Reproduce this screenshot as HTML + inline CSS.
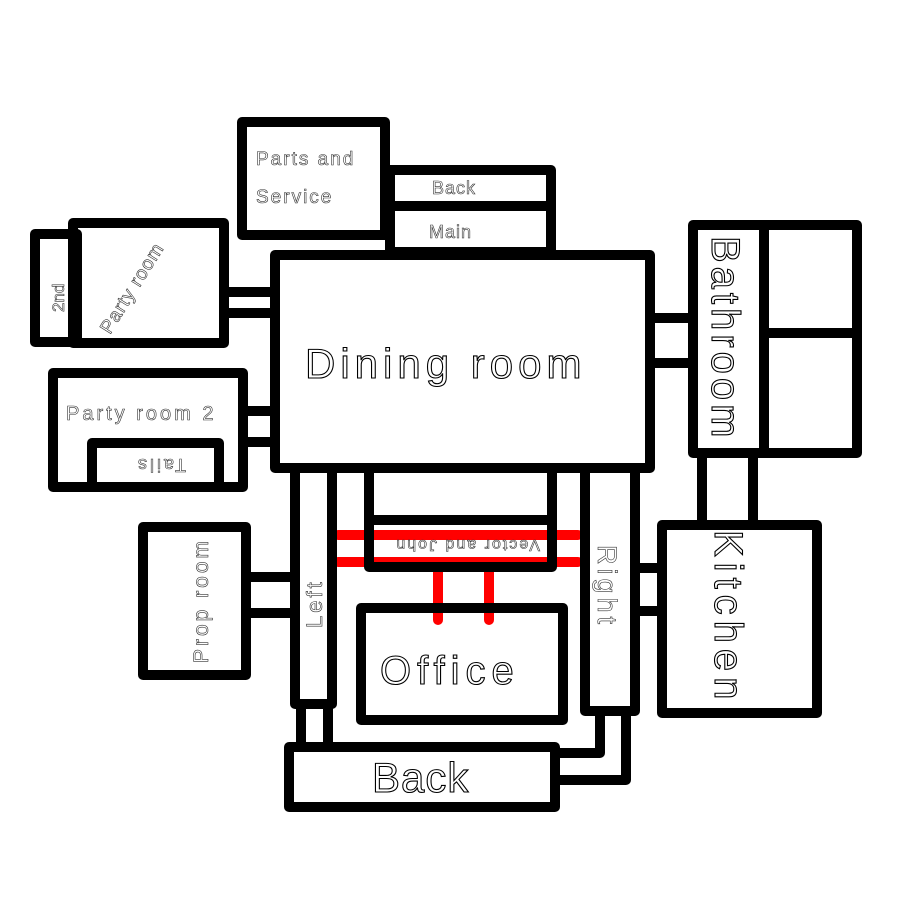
<!DOCTYPE html>
<html><head><style>html,body{margin:0;padding:0;background:#fff}svg{display:block}
text{font-family:"Liberation Sans",sans-serif;fill:#fff;stroke:#000;stroke-width:1.1}
text.s{stroke-width:0.6;stroke:#333}
</style></head><body>
<svg width="900" height="900" viewBox="0 0 900 900" xmlns="http://www.w3.org/2000/svg">
<g stroke="#f00" stroke-width="10" stroke-linecap="round" fill="none">
<line x1="338" y1="535" x2="578" y2="535"/>
<line x1="338" y1="562" x2="578" y2="562"/>
<line x1="438" y1="572" x2="438" y2="620"/>
<line x1="489" y1="572" x2="489" y2="620"/>
</g>
<g stroke="#000" stroke-width="10" fill="none" stroke-linejoin="round">
<rect x="242" y="122" width="143" height="113"/>
<rect x="390" y="170" width="161" height="82"/>
<line x1="390" y1="206" x2="551" y2="206"/>
<rect x="275" y="255" width="375" height="213"/>
<rect x="73" y="223" width="151" height="120"/>
<rect x="35" y="234" width="42" height="108"/>
<line x1="224" y1="292" x2="275" y2="292"/>
<line x1="224" y1="313" x2="275" y2="313"/>
<rect x="53" y="373" width="190" height="114"/>
<rect x="92" y="443" width="127" height="44"/>
<line x1="243" y1="411" x2="275" y2="411"/>
<line x1="243" y1="442" x2="275" y2="442"/>
<rect x="693" y="225" width="164" height="228"/>
<line x1="764" y1="225" x2="764" y2="453"/>
<line x1="764" y1="333" x2="857" y2="333"/>
<line x1="650" y1="318" x2="693" y2="318"/>
<line x1="650" y1="363" x2="693" y2="363"/>
<line x1="702" y1="453" x2="702" y2="525"/>
<line x1="753" y1="453" x2="753" y2="525"/>
<rect x="662" y="525" width="155" height="188"/>
<line x1="638" y1="568" x2="662" y2="568"/>
<line x1="638" y1="611" x2="662" y2="611"/>
<rect x="585" y="468" width="50" height="243"/>
<rect x="295" y="468" width="37" height="236"/>
<line x1="301" y1="704" x2="301" y2="745"/>
<line x1="328" y1="704" x2="328" y2="745"/>
<rect x="369" y="468" width="183" height="99"/>
<line x1="369" y1="520" x2="552" y2="520"/>
<rect x="361" y="608" width="202" height="112"/>
<rect x="143" y="527" width="103" height="148"/>
<line x1="246" y1="577" x2="295" y2="577"/>
<line x1="246" y1="613" x2="295" y2="613"/>
<rect x="289" y="747" width="266" height="60"/>
<polyline points="555,753 600,753 600,711"/>
<polyline points="555,780 626,780 626,711"/>
</g>
<text class="s" x="256" y="165" font-size="19" letter-spacing="2">Parts and</text>
<text class="s" x="256" y="203" font-size="19" letter-spacing="2">Service</text>
<text class="s" x="432" y="194" font-size="18" letter-spacing="1">Back</text>
<text class="s" x="429" y="238" font-size="18" letter-spacing="1">Main</text>
<text x="305" y="378" font-size="42" letter-spacing="5">Dining room</text>
<text class="s" font-size="19" letter-spacing="1" transform="translate(110,335) rotate(-58)">Party room</text>
<text class="s" font-size="17" transform="translate(64,312) rotate(-90)">2nd</text>
<text class="s" x="66" y="420" font-size="20" letter-spacing="3">Party room 2</text>
<text class="s" font-size="18" letter-spacing="3" transform="translate(186,459) rotate(180)">Tails</text>
<text class="s" font-size="16" letter-spacing="2" transform="translate(540,540) rotate(180)">Vector and John</text>
<text font-size="40" letter-spacing="4" transform="translate(712,236) rotate(90)">Bathroom</text>
<text font-size="40" letter-spacing="6" transform="translate(715,530) rotate(90)">Kitchen</text>
<text class="s" font-size="27" letter-spacing="4" transform="translate(598,545) rotate(90)">Right</text>
<text class="s" font-size="22" letter-spacing="3" transform="translate(322,628) rotate(-90)">Left</text>
<text class="s" font-size="21" letter-spacing="3" transform="translate(208,663) rotate(-90)">Prop room</text>
<text x="380" y="684" font-size="40" letter-spacing="6">Office</text>
<text x="372" y="792" font-size="42" letter-spacing="1">Back</text>
</svg>
</body></html>
